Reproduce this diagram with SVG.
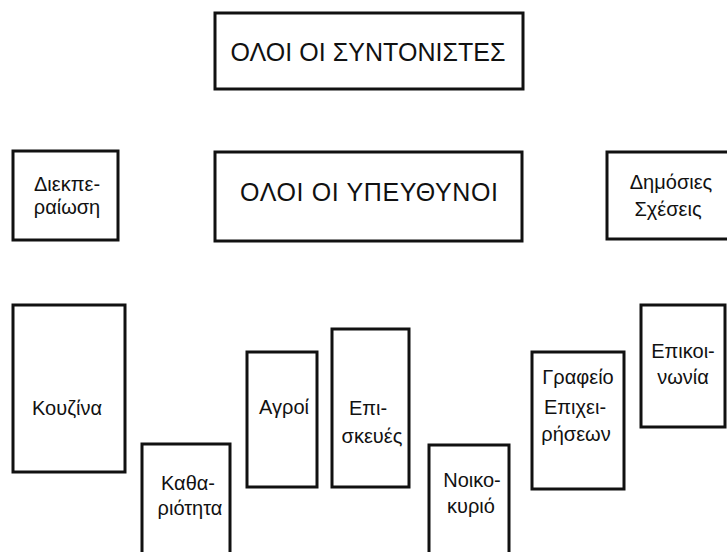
<svg xmlns="http://www.w3.org/2000/svg" width="727" height="552" viewBox="0 0 727 552">
<style>
.box{fill:#fff;stroke:#111;stroke-width:3}
.t{font-family:"Liberation Sans","DejaVu Sans",sans-serif;font-size:20px;fill:#111;text-anchor:middle}
.h{font-family:"Liberation Sans","DejaVu Sans",sans-serif;font-size:25px;fill:#111;text-anchor:middle}
</style>
<rect width="727" height="552" fill="#fff"/>
<g id="connectors"/>
<g id="n-syntonistes">
<rect class="box" x="215" y="13" width="308" height="76"/>
<text class="h" x="368" y="61" textLength="275" lengthAdjust="spacing">ΟΛΟΙ ΟΙ ΣΥΝΤΟΝΙΣΤΕΣ</text>
</g>
<g id="n-ypeythynoi">
<rect class="box" x="215" y="152" width="307" height="89"/>
<text class="h" x="369" y="201" textLength="258" lengthAdjust="spacing">ΟΛΟΙ ΟΙ ΥΠΕΥΘΥΝΟΙ</text>
</g>
<g id="n-diekperaiosi">
<rect class="box" x="13" y="151" width="105" height="89"/>
<text class="t" x="67" y="191">Διεκπε-</text>
<text class="t" x="67" y="214">ραίωση</text>
</g>
<g id="n-dimosies">
<rect class="box" x="607" y="152" width="130" height="87"/>
<text class="t" x="671" y="189">Δημόσιες</text>
<text class="t" x="668" y="216">Σχέσεις</text>
</g>
<g id="n-kouzina">
<rect class="box" x="13" y="305" width="112" height="167"/>
<text class="t" x="67" y="415">Κουζίνα</text>
</g>
<g id="n-kathariotita">
<rect class="box" x="142" y="444" width="88" height="120"/>
<text class="t" x="188" y="490">Καθα-</text>
<text class="t" x="190" y="515">ριότητα</text>
</g>
<g id="n-agroi">
<rect class="box" x="247" y="352" width="70" height="135"/>
<text class="t" x="284" y="414">Αγροί</text>
</g>
<g id="n-episkeves">
<rect class="box" x="332" y="329" width="77" height="158"/>
<text class="t" x="368" y="415">Επι-</text>
<text class="t" x="372" y="443">σκευές</text>
</g>
<g id="n-noikokyrio">
<rect class="box" x="429" y="445" width="80" height="120"/>
<text class="t" x="472" y="487">Νοικο-</text>
<text class="t" x="471" y="513">κυριό</text>
</g>
<g id="n-grafeio">
<rect class="box" x="532" y="352" width="92" height="137"/>
<text class="t" x="578" y="384">Γραφείο</text>
<text class="t" x="575" y="414">Επιχει-</text>
<text class="t" x="576" y="441">ρήσεων</text>
</g>
<g id="n-epikoinonia">
<rect class="box" x="641" y="305" width="84" height="122"/>
<text class="t" x="683" y="358">Επικοι-</text>
<text class="t" x="683" y="384">νωνία</text>
</g>
</svg>
